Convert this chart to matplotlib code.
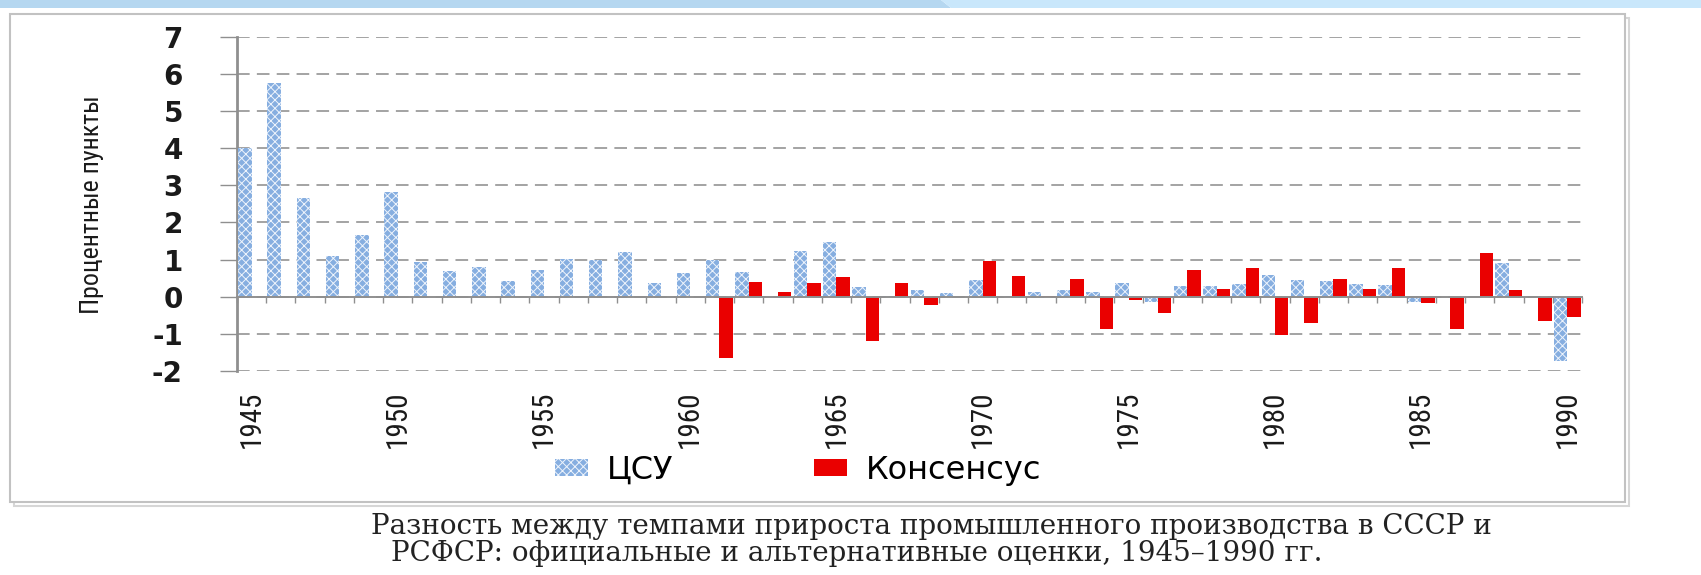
import numpy as np
import matplotlib
matplotlib.use("Agg")
import matplotlib.pyplot as plt
from matplotlib import font_manager as fm
from matplotlib.patches import Rectangle, Polygon

# ---------------- data ----------------
years = list(range(1945, 1991))
csu = [4.00, 5.75, 2.65, 1.10, 1.65, 2.83, 0.94, 0.68, 0.81, 0.42,
       0.72, 1.02, 0.98, 1.20, 0.38, 0.65,
       0.99, 0.67, 0.00, 1.23, 1.47, 0.26, 0.03, 0.18, 0.11, 0.45,
       0.03, 0.13, 0.18, 0.12, 0.36, -0.14, 0.29, 0.29, 0.33, 0.58,
       0.45, 0.42, 0.33, 0.31, -0.14, 0.00, 0.00, 0.90, 0.00, -1.73]
consensus = [np.nan] * 16 + [
    -1.66, 0.40, 0.14, 0.36, 0.54, -1.18, 0.36, -0.23, 0.00, 0.96,
    0.56, 0.02, 0.47, -0.86, -0.09, -0.45, 0.72, 0.22, 0.78, -1.04,
    -0.70, 0.47, 0.22, 0.78, -0.18, -0.88, 1.19, 0.18, -0.66, -0.54]
label_years = [1945, 1950, 1955, 1960, 1965, 1970, 1975, 1980, 1985, 1990]
y_ticks = list(range(-2, 8))
series_names = ["ЦСУ", "Консенсус"]
y_title = "Процентные пункты"
caption_lines = [
    "Разность между темпами прироста промышленного производства в СССР и",
    "РСФСР: официальные и альтернативные оценки, 1945–1990 гг.",
]

# ---------------- fonts ----------------
def find_narrow():
    prefs = ["Liberation Sans Narrow", "DejaVu Sans Condensed", "Noto Sans Condensed",
             "Roboto Condensed", "Open Sans Condensed"]
    entries = fm.fontManager.ttflist
    def is_regular(f):
        w = f.weight
        return (w in (400, "normal", "regular", "book")) and f.style == "normal"
    for p in prefs:
        for f in entries:
            if f.name == p and is_regular(f):
                return fm.FontProperties(fname=f.fname)
    for f in entries:
        if f.stretch in ("condensed", "semi-condensed") and is_regular(f) \
                and "Serif" not in f.name and "Mono" not in f.name and "CJK" not in f.name:
            return fm.FontProperties(fname=f.fname)
    return None

narrow_fp = find_narrow()
if narrow_fp is not None:
    nscale = 1.0
else:
    narrow_fp = fm.FontProperties(family="DejaVu Sans")
    nscale = 0.76

plt.rcParams["axes.unicode_minus"] = False
plt.rcParams["hatch.linewidth"] = 0.7
plt.rcParams["font.family"] = ["DejaVu Sans"]

W, H = 1701, 575
fig = plt.figure(figsize=(W / 100, H / 100), dpi=100, facecolor="white")

# ---------------- decoration: slide band & chart frame ----------------
band_h = 8 / H
fig.add_artist(Polygon([(0, 1), (941 / W, 1), (951 / W, 1 - band_h), (0, 1 - band_h)],
                       closed=True, transform=fig.transFigure,
                       facecolor="#b5d7f0", edgecolor="none", zorder=-10))
fig.add_artist(Polygon([(941 / W, 1), (1, 1), (1, 1 - band_h), (951 / W, 1 - band_h)],
                       closed=True, transform=fig.transFigure,
                       facecolor="#c9e7fb", edgecolor="none", zorder=-10))
bx0, bx1, by0, by1 = 10, 1625, 14, 502
fig.add_artist(Rectangle(((bx0 + 4) / W, 1 - (by1 + 4) / H), (bx1 - bx0) / W, (by1 - by0) / H,
                         transform=fig.transFigure, facecolor="white",
                         edgecolor="#d6d6d6", linewidth=1.5, zorder=-9))
fig.add_artist(Rectangle((bx0 / W, 1 - by1 / H), (bx1 - bx0) / W, (by1 - by0) / H,
                         transform=fig.transFigure, facecolor="white",
                         edgecolor="#c2c2c2", linewidth=1.5, zorder=-8))

# ---------------- axes ----------------
ax_l, ax_r, ax_t, ax_b = 237, 1582, 36.7, 371
ax = fig.add_axes([ax_l / W, 1 - ax_b / H, (ax_r - ax_l) / W, (ax_b - ax_t) / H])
ax.set_facecolor("none")

x = np.arange(len(years))
bw = 0.46
b1 = ax.bar(x - 0.23, csu, bw, color="#86aee0", edgecolor="#eef4fc", linewidth=0,
            hatch="xxxx", label=series_names[0], zorder=3)
b2 = ax.bar(x + 0.23, consensus, bw, color="#ea0000", linewidth=0,
            label=series_names[1], zorder=3)

ax.set_xlim(-0.5, len(years) - 0.5)
ax.set_ylim(-2, 7)

gray = "#8f8f8f"
for s in ("top", "right"):
    ax.spines[s].set_visible(False)
ax.spines["bottom"].set_position(("data", 0))
ax.spines["bottom"].set_color(gray)
ax.spines["bottom"].set_linewidth(1.4)
ax.spines["bottom"].set_zorder(4)
ax.spines["left"].set_color(gray)
ax.spines["left"].set_linewidth(2.0)

ax.set_xticks(np.arange(-0.5, len(years), 1.0))
ax.set_xticklabels([])
ax.tick_params(axis="x", direction="out", length=4.5, width=1.0, color=gray)

ax.set_yticks(y_ticks)
ax.set_yticklabels([str(v) for v in y_ticks], fontsize=20, fontweight="bold",
                   color="#1a1a1a")
ax.tick_params(axis="y", direction="out", length=12, width=1.0, color=gray, pad=27)
ax.yaxis.grid(True, color="#9c9c9c", linestyle=(0, (7, 4)), linewidth=1.3, zorder=0)
ax.set_axisbelow(True)

ax.set_ylabel(y_title, fontproperties=narrow_fp, fontsize=18.6 * nscale, color="#1a1a1a")
ax.yaxis.label.set_va("center")
ax.yaxis.set_label_coords((92 - ax_l) / (ax_r - ax_l), (ax_b - 205) / (ax_b - ax_t))

# year labels below the plot
sec = ax.secondary_xaxis(0.0)
sec.set_xticks([years.index(y) for y in label_years],
               labels=[str(y) for y in label_years])
for t in sec.get_xticklabels():
    t.set_fontproperties(narrow_fp)
    t.set_fontsize(21 * nscale)
    t.set_color("#1a1a1a")
sec.tick_params(length=0, pad=14, labelrotation=90)
sec.spines["bottom"].set_visible(False)

# legend
fig.legend([b1, b2], series_names, loc="center left",
           bbox_to_anchor=(555 / W, 1 - 470 / H), ncol=2, frameon=False,
           fontsize=23, handlelength=1.03, handleheight=0.44, handletextpad=0.6,
           columnspacing=4.4, borderpad=0, borderaxespad=0)

# caption
fig.text(931 / W, 1 - 534 / H, caption_lines[0], ha="center", va="baseline",
         family="DejaVu Serif", fontsize=20, color="#222222")
fig.text(857 / W, 1 - 561 / H, caption_lines[1], ha="center", va="baseline",
         family="DejaVu Serif", fontsize=20, color="#222222")

fig.savefig("out.png", dpi=100, facecolor="white")
